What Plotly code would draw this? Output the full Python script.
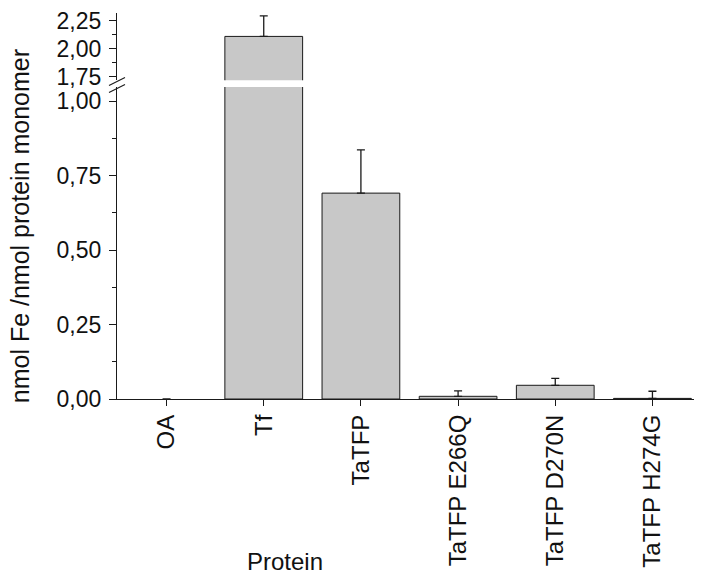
import plotly.graph_objects as go

proteins = ["OA", "Tf", "TaTFP", "TaTFP E266Q", "TaTFP D270N", "TaTFP H274G"]
fe_ratio = [0.0, 2.111, 0.691, 0.009, 0.046, 0.002]
fe_err = [0.0, 0.183, 0.145, 0.018, 0.023, 0.024]

font_family = "Arial, 'Liberation Sans', sans-serif"
bar_fill = "#c8c8c8"
ink = "#1a1a1a"

# the page body has an 8px margin, so the figure is drawn 8px smaller
OFF = 8
PLOT_W = 585.0
PLOT_H = 391.0


def py(ref_y):
    # reference pixel row -> paper y
    return 1 - (ref_y - OFF) / PLOT_H


def px(ref_x):
    return (ref_x - 117) / PLOT_W


fig = go.Figure()


def bar_trace(yaxis):
    return go.Bar(
        x=proteins, y=fe_ratio, width=0.80,
        marker=dict(color=bar_fill,
                    line=dict(color=ink, width=[0 if v == 0 else 1 for v in fe_ratio])),
        error_y=dict(type="data", symmetric=False, array=fe_err,
                     arrayminus=[0] * len(fe_err),
                     color=ink, thickness=1.3, width=4),
        yaxis=yaxis, xaxis="x", showlegend=False, hoverinfo="x+y",
    )


fig.add_trace(bar_trace("y"))
fig.add_trace(bar_trace("y2"))

axis_common = dict(
    showline=True, linecolor=ink, linewidth=1.2,
    ticks="outside", ticklen=7, tickwidth=1.2, tickcolor=ink,
    showgrid=False, zeroline=False, tickformat=".2f", dtick=0.25,
    tickfont=dict(size=23, color="#111111", family=font_family),
    ticklabelstandoff=3, ticklabeloverflow="allow",
    minor=dict(ticks="outside", ticklen=4, tickwidth=1.2,
               tickcolor=ink, dtick=0.125, showgrid=False),
)

fig.update_layout(
    width=702 - OFF, height=574 - OFF,
    margin=dict(l=117 - OFF, r=0, t=0, b=175, pad=0),
    paper_bgcolor="white", plot_bgcolor="white",
    separators=",.",
    font=dict(family=font_family, size=22, color="#111111"),
    xaxis=dict(
        type="category", range=[-0.51, 5.51],
        showline=True, linecolor=ink, linewidth=1.2,
        ticks="outside", ticklen=6, tickwidth=1.2, tickcolor=ink,
        tickangle=-90, showgrid=False, anchor="y",
        ticklabelstandoff=-1,
        tickfont=dict(size=24, color="#111111", family=font_family),
    ),
    yaxis=dict(domain=[0, py(83)],
               range=[0, (399 - 83) / 301.8],
               anchor="x", **axis_common),
    yaxis2=dict(domain=[py(76), 1],
                range=[2.0 - (76 - 44.3) / 113.3, 2.0 + (44.3 - OFF) / 113.3],
                anchor="x", **axis_common),
)

# axis break marks
for dy in (3.5, -3.5):
    fig.add_shape(type="line", xref="paper", yref="paper",
                  xsizemode="pixel", ysizemode="pixel",
                  xanchor=0, yanchor=py(81),
                  x0=-8, x1=8, y0=dy - 4, y1=dy + 4,
                  line=dict(color=ink, width=1.2))

fig.add_annotation(text="nmol Fe /nmol protein monomer", xref="paper", yref="paper",
                   x=px(20), y=py(224), textangle=-90,
                   showarrow=False, xanchor="center", yanchor="middle",
                   font=dict(size=25, color="#111111"))
fig.add_annotation(text="Protein", xref="paper", yref="paper",
                   x=px(284.5), y=py(564),
                   showarrow=False, xanchor="center", yanchor="middle",
                   font=dict(size=24, color="#111111"))

fig.write_html("out.html")
